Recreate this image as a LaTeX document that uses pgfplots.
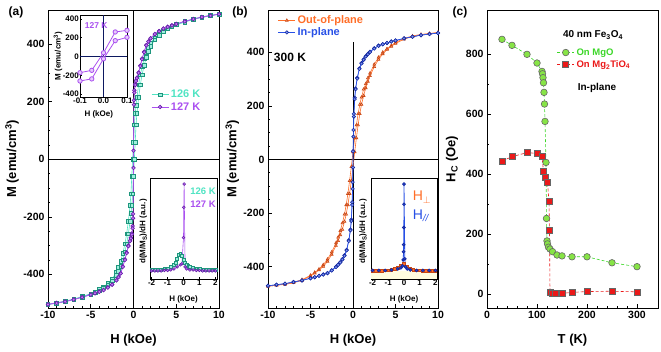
\documentclass[border=0pt]{standalone}
\usepackage{fontspec}
\setmainfont{Liberation Sans}
\usepackage{pgfplots}
\pgfplotsset{compat=1.18}

\definecolor{cyc}{RGB}{80,228,195}
\definecolor{cyd}{RGB}{30,150,125}
\definecolor{pur}{RGB}{170,80,240}
\definecolor{purd}{RGB}{105,30,170}
\definecolor{org}{RGB}{255,110,40}
\definecolor{orgd}{RGB}{200,70,20}
\definecolor{blu}{RGB}{40,80,230}
\definecolor{blud}{RGB}{20,40,160}
\definecolor{grn}{RGB}{135,228,70}
\definecolor{grnt}{RGB}{60,215,40}
\definecolor{redc}{RGB}{235,25,25}

\pgfplotsset{
  mainax/.style={
    scale only axis, anchor=south west,
    tick align=inside, xtick pos=lower, ytick pos=left,
    major tick length=4pt, minor tick length=2pt,
    tick style={black, line width=0.6pt},
    axis line style={line width=0.8pt},
    ticklabel style={font=\fontsize{10.5}{12}\selectfont\bfseries},
    label style={font=\fontsize{13}{15}\selectfont\bfseries},
    /pgf/number format/assume math mode=true,
    xlabel style={at={(rel axis cs:0.5,-0.107)}, anchor=center},
    ylabel style={at={(rel axis cs:-0.21,0.5)}, anchor=center},
  },
  inset/.style={
    scale only axis, anchor=south west,
    axis background/.style={fill=white},
    tick align=inside, xtick pos=lower, ytick pos=left,
    major tick length=2.5pt, minor tick length=1.5pt,
    tick style={black, line width=0.5pt},
    axis line style={line width=0.6pt},
    ticklabel style={font=\fontsize{8}{9}\selectfont\bfseries, inner sep=1pt},
    label style={font=\fontsize{8}{9}\selectfont\bfseries},
    /pgf/number format/assume math mode=true,
  },
}

\begin{document}
\begin{tikzpicture}[x=1pt,y=1pt]
\useasboundingbox (0,0) rectangle (661,351);

% ---------------- (a) ----------------
\begin{axis}[mainax, at={(48pt,43pt)}, width=171pt, height=298pt,
  xmin=-10, xmax=10, ymin=-517, ymax=519,
  xtick={-10,-5,0,5,10}, minor x tick num=4,
  ytick={-400,-200,0,200,400}, minor y tick num=3,
  xlabel={H (kOe)}, ylabel={M (emu/cm\textsuperscript{3})},
  legend style={at={(0.585,0.745)}, anchor=north west, draw=none, fill=none,
    font=\fontsize{11}{13}\selectfont\bfseries, row sep=-1pt},
  legend cell align=left]
\addplot[black, line width=0.6pt, forget plot] coordinates {(-10,0)(10,0)};
\addplot[black, line width=0.6pt, forget plot] coordinates {(0,-517)(0,519)};
\addplot[cyc, line width=0.6pt, mark=square*, mark size=1.8pt, mark options={fill=cyc!55!white, draw=cyd}] coordinates {
(10,504)(9,501)(8,495)(7,488)(6,479)(5,469)(4.5,463)(4,457)(3.5,447)(3,437)(2.5,423)(2,404)(1.75,390)(1.5,372)(1.25,349)(1,321)(0.8,294)(0.6,259)(0.4,215)(0.3,188)(0.2,160)(0.1,120)(0,60)(-0.1,0)(-0.2,-60)(-0.3,-120)(-0.4,-160)(-0.6,-215)(-0.8,-259)(-1,-294)(-1.25,-327)(-1.5,-354)(-1.75,-376)(-2,-393)(-2.5,-416)(-3,-432)(-3.5,-443)(-4,-453)(-4.5,-460)(-5,-467)(-6,-477)(-7,-486)(-8,-493)(-9,-499)(-10,-504)};
\addlegendentry{\textcolor{cyc}{126 K}}
\addplot[cyc, line width=0.6pt, mark=square*, mark size=1.8pt, mark options={fill=cyc!55!white, draw=cyd}, forget plot] coordinates {
(-10,-504)(-9,-501)(-8,-495)(-7,-488)(-6,-479)(-5,-469)(-4.5,-463)(-4,-457)(-3.5,-447)(-3,-437)(-2.5,-423)(-2,-404)(-1.75,-390)(-1.5,-372)(-1.25,-349)(-1,-321)(-0.8,-294)(-0.6,-259)(-0.4,-215)(-0.3,-188)(-0.2,-160)(-0.1,-120)(0,-60)(0.1,0)(0.2,60)(0.3,120)(0.4,160)(0.6,215)(0.8,259)(1,294)(1.25,327)(1.5,354)(1.75,376)(2,393)(2.5,416)(3,432)(3.5,443)(4,453)(4.5,460)(5,467)(6,477)(7,486)(8,493)(9,499)(10,504)};
\addplot[pur, line width=0.6pt, mark=*, mark size=1.8pt, mark options={fill=pur!75!white, draw=purd}] coordinates {
(10,505)(9,500)(8,495)(7,488)(6,480)(5,471)(4.5,466)(4,461)(3.5,455)(3,446)(2.5,436)(2,421)(1.75,410)(1.5,397)(1.25,374)(1,350)(0.8,326)(0.6,302)(0.4,284)(0.3,275)(0.2,262)(0.1,240)(0.05,205)(0,30)(-0.05,-190)(-0.1,-232)(-0.2,-258)(-0.3,-272)(-0.4,-282)(-0.6,-300)(-0.8,-324)(-1,-348)(-1.25,-372)(-1.5,-396)(-1.75,-409)(-2,-420)(-2.5,-435)(-3,-445)(-3.5,-454)(-4,-460)(-4.5,-465)(-5,-470)(-6,-479)(-7,-487)(-8,-494)(-9,-499)(-10,-504)};
\addlegendentry{\textcolor{pur}{127 K}}
\addplot[pur, line width=0.6pt, mark=*, mark size=1.8pt, mark options={fill=pur!75!white, draw=purd}, forget plot] coordinates {
(-10,-505)(-9,-500)(-8,-495)(-7,-488)(-6,-480)(-5,-471)(-4.5,-466)(-4,-461)(-3.5,-455)(-3,-446)(-2.5,-436)(-2,-421)(-1.75,-410)(-1.5,-397)(-1.25,-374)(-1,-350)(-0.8,-326)(-0.6,-302)(-0.4,-284)(-0.3,-275)(-0.2,-262)(-0.1,-240)(-0.05,-205)(0,-30)(0.05,190)(0.1,232)(0.2,258)(0.3,272)(0.4,282)(0.6,300)(0.8,324)(1,348)(1.25,372)(1.5,396)(1.75,409)(2,420)(2.5,435)(3,445)(3.5,454)(4,460)(4.5,465)(5,470)(6,479)(7,487)(8,494)(9,499)(10,504)};
\end{axis}

% inset (a) top
\begin{axis}[inset, at={(80pt,254pt)}, width=47pt, height=82pt,
  xmin=-0.1, xmax=0.1, ymin=-430, ymax=440,
  xtick={-0.1,0,0.1}, xticklabels={-0.1,0.0,0.1},
  ytick={-400,-200,0,200,400}, minor y tick num=1,
  xlabel={H (kOe)}, ylabel={M (emu/cm\textsuperscript{3})},
  xlabel style={at={(rel axis cs:0.4,-0.13)}, anchor=north},
  ylabel style={at={(rel axis cs:-0.47,0.5)}, anchor=center}]
\addplot[blud!60!black, line width=0.6pt] coordinates {(-0.1,0)(0.1,0)};
\addplot[blud!60!black, line width=0.6pt] coordinates {(0,-430)(0,440)};
\addplot[pur, line width=0.8pt, mark=*, mark size=2.2pt, mark options={draw=pur, fill=pur!30!white}] coordinates {
(-0.1,-172)(-0.05,-147)(0,39)(0.05,260)(0.1,277)};
\addplot[pur, line width=0.8pt, mark=*, mark size=2.2pt, mark options={draw=pur, fill=pur!30!white}] coordinates {
(-0.1,-260)(-0.05,-238)(0,-25)(0.05,168)(0.1,203)};
\node[anchor=west, text=pur, font=\fontsize{8.5}{10}\selectfont\bfseries] at (rel axis cs:0.03,0.87) {127 K};
\end{axis}

% inset (a) bottom
\begin{axis}[inset, at={(150pt,72pt)}, width=67pt, height=101pt,
  xmin=-2.1, xmax=2.1, ymin=0, ymax=1,
  xtick={-2,-1,0,1,2}, ytick=\empty,
  xlabel={H (kOe)}, ylabel={d(M/M\textsubscript{S})/dH (a.u.)},
  xlabel style={at={(rel axis cs:0.5,-0.13)}, anchor=north},
  ylabel style={at={(rel axis cs:-0.1,0.47)}, anchor=center}]
\addplot[cyc, line width=0.6pt, mark=square*, mark size=1.4pt, mark options={fill=cyc!55!white, draw=cyd}] coordinates {
(-2,0.09)(-1.8,0.09)(-1.6,0.09)(-1.4,0.095)(-1.2,0.1)(-1,0.1)(-0.8,0.12)(-0.6,0.14)(-0.5,0.16)(-0.4,0.2)(-0.3,0.24)(-0.2,0.25)(-0.1,0.23)(0,0.19)(0.1,0.16)(0.2,0.14)(0.3,0.13)(0.4,0.12)(0.6,0.11)(0.8,0.1)(1,0.1)(1.2,0.095)(1.4,0.09)(1.6,0.09)(1.8,0.09)(2,0.09)};
\addplot[pur, line width=0.6pt, mark=*, mark size=1.4pt, mark options={fill=pur!75!white, draw=purd}] coordinates {
(-2,0.08)(-1.8,0.08)(-1.6,0.08)(-1.4,0.08)(-1.2,0.085)(-1,0.085)(-0.8,0.09)(-0.6,0.1)(-0.4,0.12)(-0.2,0.14)(-0.1,0.15)(0,0.41)(0.02,0.71)(0.04,0.94)(0.1,0.12)(0.2,0.1)(0.4,0.09)(0.6,0.09)(0.8,0.085)(1,0.085)(1.2,0.08)(1.4,0.08)(1.6,0.08)(1.8,0.08)(2,0.08)};
\node[anchor=west, text=cyc, font=\fontsize{9.5}{11}\selectfont\bfseries] at (rel axis cs:0.55,0.87) {126 K};
\node[anchor=west, text=pur, font=\fontsize{9.5}{11}\selectfont\bfseries] at (rel axis cs:0.55,0.74) {127 K};
\end{axis}

% ---------------- (b) ----------------
\begin{axis}[mainax, at={(268pt,43pt)}, width=170pt, height=298pt,
  xmin=-10, xmax=10, ymin=-555, ymax=558,
  xtick={-10,-5,0,5,10}, minor x tick num=4,
  ytick={-400,-200,0,200,400}, minor y tick num=3,
  xlabel={H (kOe)}, ylabel={M (emu/cm\textsuperscript{3})},
  legend style={at={(0.04,0.995)}, anchor=north west, draw=none, fill=none,
    font=\fontsize{11}{13}\selectfont\bfseries, row sep=-1.5pt},
  legend cell align=left]
\addplot[black, line width=0.6pt, forget plot] coordinates {(-10,0)(10,0)};
\addplot[black, line width=0.6pt, forget plot] coordinates {(0,-555)(0,440)};
\addplot[org, line width=0.6pt, mark=triangle*, mark size=1.6pt, mark options={fill=org!60!white, draw=orgd}] coordinates {
(10,474)(9,470)(8,467)(7,461)(6,452)(5,436)(4.5,425)(4,413)(3.5,400)(3,381)(2.5,355)(2,322)(1.75,304)(1.5,282)(1.25,262)(1,232)(0.8,205)(0.6,170)(0.4,128)(0.2,80)(0,28)(-0.2,-28)(-0.4,-80)(-0.6,-128)(-0.8,-170)(-1,-205)(-1.25,-238)(-1.5,-267)(-1.75,-291)(-2,-312)(-2.5,-346)(-3,-373)(-3.5,-394)(-4,-410)(-4.5,-422)(-5,-433)(-6,-449)(-7,-459)(-8,-465)(-9,-470)(-10,-474)};
\addlegendentry{\textcolor{org}{Out-of-plane}}
\addplot[org, line width=0.6pt, mark=triangle*, mark size=1.6pt, mark options={fill=org!60!white, draw=orgd}, forget plot] coordinates {
(-10,-474)(-9,-470)(-8,-467)(-7,-461)(-6,-452)(-5,-436)(-4.5,-425)(-4,-413)(-3.5,-400)(-3,-381)(-2.5,-355)(-2,-322)(-1.75,-304)(-1.5,-282)(-1.25,-262)(-1,-232)(-0.8,-205)(-0.6,-170)(-0.4,-128)(-0.2,-80)(0,-28)(0.2,28)(0.4,80)(0.6,128)(0.8,170)(1,205)(1.25,238)(1.5,267)(1.75,291)(2,312)(2.5,346)(3,373)(3.5,394)(4,410)(4.5,422)(5,433)(6,449)(7,459)(8,465)(9,470)(10,474)};
\addplot[blu, line width=0.6pt, mark=*, mark size=1.7pt, mark options={fill=blu!60!white, draw=blud}] coordinates {
(10,472)(9,468)(8,464)(7,458)(6,452)(5,444)(4.5,440)(4,435)(3.5,430)(3,425)(2.5,415)(2,402)(1.75,394)(1.5,385)(1.25,374)(1,360)(0.75,340)(0.5,305)(0.3,265)(0.2,230)(0.1,170)(0.05,110)(0,30)(-0.05,-85)(-0.1,-160)(-0.2,-225)(-0.3,-262)(-0.5,-302)(-0.75,-338)(-1,-358)(-1.25,-372)(-1.5,-384)(-1.75,-393)(-2,-401)(-2.5,-414)(-3,-424)(-3.5,-430)(-4,-435)(-4.5,-440)(-5,-444)(-6,-452)(-7,-458)(-8,-464)(-9,-468)(-10,-472)};
\addlegendentry{\textcolor{blu}{In-plane}}
\addplot[blu, line width=0.6pt, mark=*, mark size=1.7pt, mark options={fill=blu!60!white, draw=blud}, forget plot] coordinates {
(-10,-472)(-9,-468)(-8,-464)(-7,-458)(-6,-452)(-5,-444)(-4.5,-440)(-4,-435)(-3.5,-430)(-3,-425)(-2.5,-415)(-2,-402)(-1.75,-394)(-1.5,-385)(-1.25,-374)(-1,-360)(-0.75,-340)(-0.5,-305)(-0.3,-265)(-0.2,-230)(-0.1,-170)(-0.05,-110)(0,-30)(0.05,85)(0.1,160)(0.2,225)(0.3,262)(0.5,302)(0.75,338)(1,358)(1.25,372)(1.5,384)(1.75,393)(2,401)(2.5,414)(3,424)(3.5,430)(4,435)(4.5,440)(5,444)(6,452)(7,458)(8,464)(9,468)(10,472)};
\end{axis}

% inset (b) bottom
\begin{axis}[inset, at={(371pt,72pt)}, width=66pt, height=101pt,
  xmin=-2.1, xmax=2.1, ymin=0, ymax=1,
  xtick={-2,-1,0,1,2}, ytick=\empty,
  xlabel={H (kOe)}, ylabel={d(M/M\textsubscript{S})/dH (a.u.)},
  xlabel style={at={(rel axis cs:0.5,-0.13)}, anchor=north},
  ylabel style={at={(rel axis cs:-0.12,0.47)}, anchor=center}]
\addplot[fill=yellow!12, draw=none] coordinates {(-2.1,0.075)(2.1,0.075)} \closedcycle;
\addplot[org, line width=0.6pt, mark=square*, mark size=1.3pt, mark options={fill=org, draw=orgd}] coordinates {
(-2,0.08)(-1.8,0.08)(-1.6,0.08)(-1.4,0.08)(-1.2,0.085)(-1,0.085)(-0.8,0.09)(-0.6,0.1)(-0.4,0.11)(-0.2,0.13)(0,0.15)(0.2,0.12)(0.4,0.1)(0.6,0.09)(0.8,0.085)(1,0.085)(1.2,0.08)(1.4,0.08)(1.6,0.08)(1.8,0.08)(2,0.08)};
\addplot[blu, line width=0.8pt, mark=*, mark size=1.4pt, mark options={fill=blu, draw=blud}] coordinates {
(-2,0.085)(-1.6,0.085)(-1.2,0.085)(-0.8,0.09)(-0.4,0.1)(-0.2,0.11)(-0.1,0.13)(-0.05,0.19)(-0.03,0.27)(-0.02,0.34)(-0.01,0.51)(0,0.74)(0,0.94)(0.05,0.2)(0.1,0.12)(0.2,0.1)(0.4,0.09)(0.8,0.085)(1.2,0.085)(1.6,0.085)(2,0.085)};
\node[anchor=west, text=org, font=\fontsize{14}{16}\selectfont] at (rel axis cs:0.58,0.81) {H\textsubscript{$\perp$}};
\node[anchor=west, text=blu, font=\fontsize{14}{16}\selectfont] at (rel axis cs:0.58,0.63) {H\textsubscript{\textit{//}}};
\end{axis}

% ---------------- (c) ----------------
\begin{axis}[mainax, at={(487pt,43pt)}, width=171pt, height=298pt,
  xmin=0, xmax=342, ymin=-47, ymax=948,
  xtick={0,100,200,300}, minor x tick num=4,
  ytick={0,200,400,600,800}, minor y tick num=1,
  xlabel={T (K)}, ylabel={H\textsubscript{C} (Oe)},
  ylabel style={at={(rel axis cs:-0.205,0.5)}},
  legend style={at={(0.39,0.885)}, anchor=north west, draw=none, fill=none,
    font=\fontsize{9.5}{11}\selectfont\bfseries, row sep=0pt},
  legend cell align=left]
\addplot[grnt, densely dashed, line width=0.6pt, mark=*, mark size=3.3pt, mark options={solid, fill=grn, draw=black!60}] coordinates {
(30,850)(50,830)(80,800)(100,771)(110,743)(111,735)(112,722)(113,705)(114,673)(115,634)(116,576)(118,439)(119,252)(120,177)(121,167)(123,156)(126,150)(131,141)(140,130)(150,127)(170,124)(200,124)(250,104)(300,91)};
\addlegendentry{\textcolor{grnt}{On MgO}}
\addplot[redc, densely dashed, line width=0.6pt, mark=square*, mark size=3pt, mark options={solid, fill=redc, draw=black!60}] coordinates {
(30,444)(50,458)(80,472)(100,469)(110,458)(113,408)(117,391)(121,372)(124,308)(125,213)(126,4)(130,3)(137,2)(150,2)(170,5)(200,8)(250,9)(300,7)};
\addlegendentry{\textcolor{redc}{On Mg\textsubscript{2}TiO\textsubscript{4}}}
\end{axis}

% panel labels and notes
\node[font=\fontsize{12}{14}\selectfont\bfseries] at (16,339) {(a)};
\node[font=\fontsize{12}{14}\selectfont\bfseries] at (240,339) {(b)};
\node[font=\fontsize{12}{14}\selectfont\bfseries] at (460,339) {(c)};
\node[font=\fontsize{12}{14}\selectfont\bfseries] at (290,294) {300 K};
\node[font=\fontsize{10}{12}\selectfont\bfseries] at (593,316) {40 nm Fe\textsubscript{3}O\textsubscript{4}};
\node[font=\fontsize{10}{12}\selectfont\bfseries] at (597,263) {In-plane};
\end{tikzpicture}
\end{document}
